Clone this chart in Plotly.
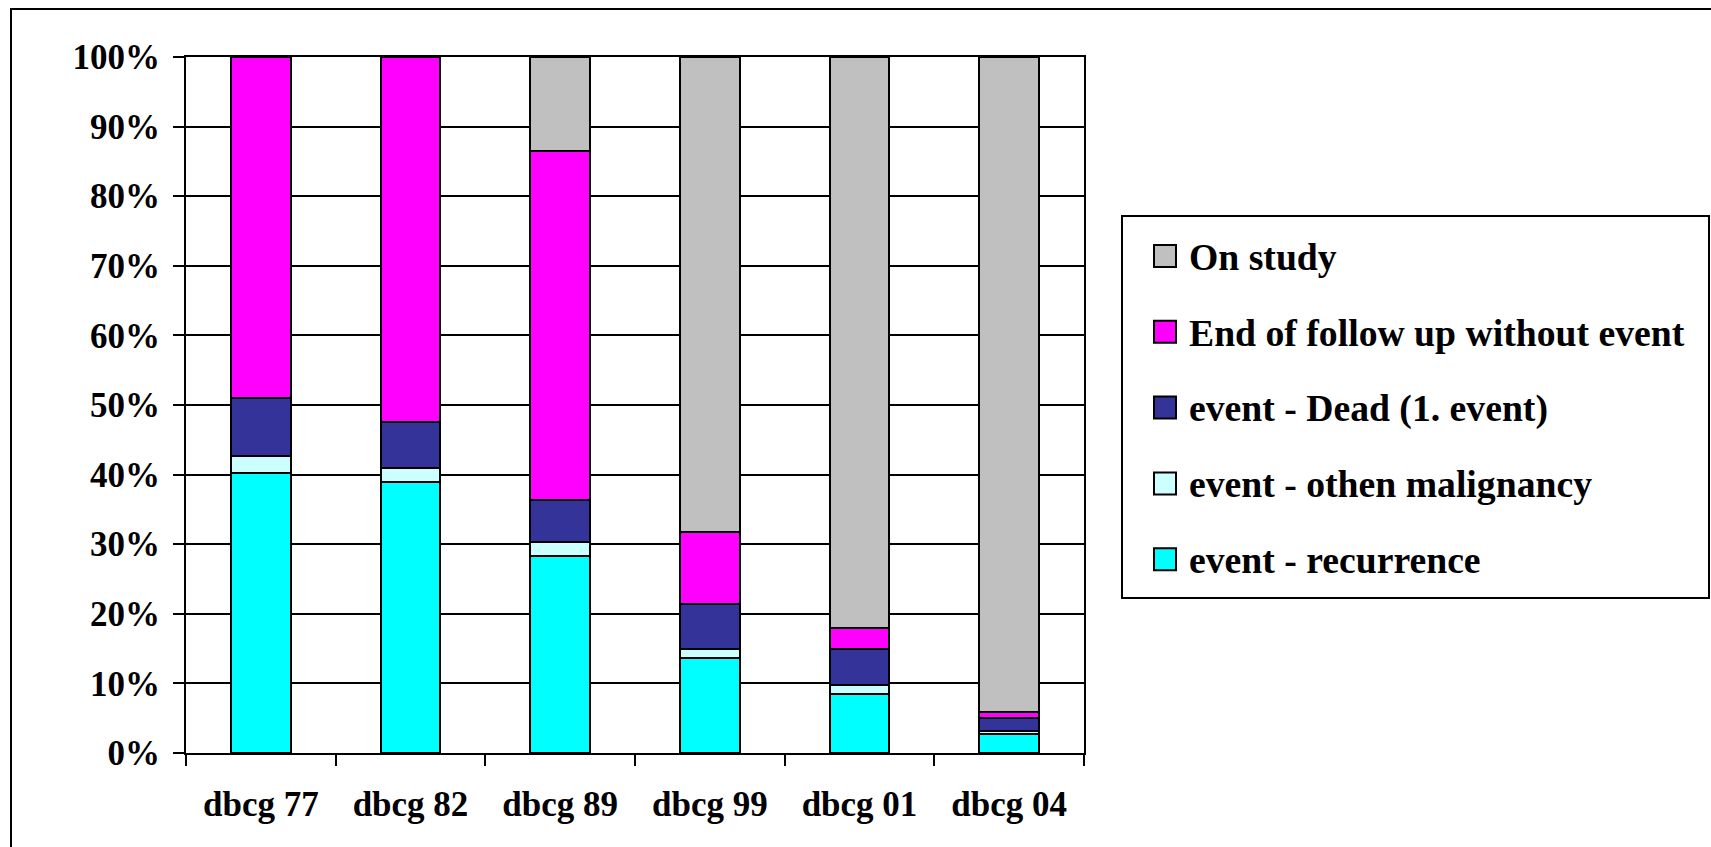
import plotly.graph_objects as go

# Study cohorts
categories = ["dbcg 77", "dbcg 82", "dbcg 89", "dbcg 99", "dbcg 01", "dbcg 04"]

# Share of patients per outcome (percent), stacked bottom to top
recurrence = [40.3, 38.9, 28.3, 13.6, 8.5, 2.8]
other_malignancy = [2.4, 2.0, 2.0, 1.3, 1.3, 0.3]
dead_first_event = [8.3, 6.7, 6.1, 6.5, 5.1, 1.9]
end_follow_up = [49.0, 52.4, 50.1, 10.4, 3.1, 0.9]
on_study = [0.0, 0.0, 13.5, 68.2, 82.0, 94.1]

series_names = [
    "event - recurrence",
    "event - othen malignancy",
    "event - Dead (1. event)",
    "End of follow up without event",
    "On study",
]
series_values = [recurrence, other_malignancy, dead_first_event, end_follow_up, on_study]
series_colors = ["#00FFFF", "#CCFFFF", "#333399", "#FF00FF", "#C0C0C0"]

y_ticks = [0, 10, 20, 30, 40, 50, 60, 70, 80, 90, 100]
y_tick_labels = ["0%", "10%", "20%", "30%", "40%", "50%", "60%", "70%", "80%", "90%", "100%"]

W, H = 1711, 847
L, R, T, B = 186, 1084, 57, 753  # plot area in pixels

FONT = "Liberation Serif"

fig = go.Figure()
for name, vals, col in zip(series_names, series_values, series_colors):
    fig.add_trace(go.Bar(
        x=categories, y=vals, name=name,
        marker=dict(color=col, line=dict(color="black", width=2)),
        showlegend=False,
    ))


def px_x(px):
    return (px - L) / (R - L)


def px_y(py):
    return (B - py) / (B - T)


shapes = []
annotations = []

# outer chart frame (runs past the right and bottom page edges)
shapes.append(dict(type="rect", xref="paper", yref="paper",
                   x0=px_x(11), x1=px_x(W + 20), y0=px_y(H + 20), y1=px_y(9),
                   line=dict(color="black", width=2), fillcolor="rgba(0,0,0,0)",
                   layer="below"))

# legend box
shapes.append(dict(type="rect", xref="paper", yref="paper",
                   x0=px_x(1122), x1=px_x(1709), y0=px_y(598), y1=px_y(216),
                   line=dict(color="black", width=2), fillcolor="white"))

row0, step = 256, 75.8
legend_order = list(range(len(series_names)))[::-1]
for i, k in enumerate(legend_order):
    cy = row0 + i * step
    shapes.append(dict(type="rect", xref="paper", yref="paper",
                       x0=px_x(1154), x1=px_x(1176), y0=px_y(cy + 11), y1=px_y(cy - 11),
                       line=dict(color="black", width=2), fillcolor=series_colors[k]))
    annotations.append(dict(xref="paper", yref="paper", x=px_x(1187), y=px_y(cy + 1),
                            text=series_names[k], showarrow=False,
                            xanchor="left", yanchor="middle",
                            font=dict(family=FONT, size=37.7, color="black", weight="bold")))

fig.update_layout(
    width=W, height=H,
    margin=dict(l=L, r=W - R, t=T, b=H - B, autoexpand=False),
    paper_bgcolor="white", plot_bgcolor="white",
    barmode="stack", bargap=0.6,
    shapes=shapes, annotations=annotations,
    font=dict(family=FONT, size=35, color="black", weight="bold"),
)

fig.update_xaxes(
    type="category",
    showline=True, linecolor="black", linewidth=2, mirror=True,
    ticks="outside", tickson="boundaries", ticklen=11, tickwidth=2, tickcolor="black",
    ticklabelstandoff=19,
    tickfont=dict(family=FONT, size=35, color="black", weight="bold"),
    showgrid=False,
)
fig.update_yaxes(
    range=[0, 100], tickmode="array", tickvals=y_ticks, ticktext=y_tick_labels,
    showline=True, linecolor="black", linewidth=2, mirror=True,
    ticks="outside", ticklen=11, tickwidth=2, tickcolor="black",
    ticklabelstandoff=6,
    tickfont=dict(family=FONT, size=35, color="black", weight="bold"),
    showgrid=True, gridcolor="black", gridwidth=2,
    zeroline=False,
)

fig.write_html("out.html")
